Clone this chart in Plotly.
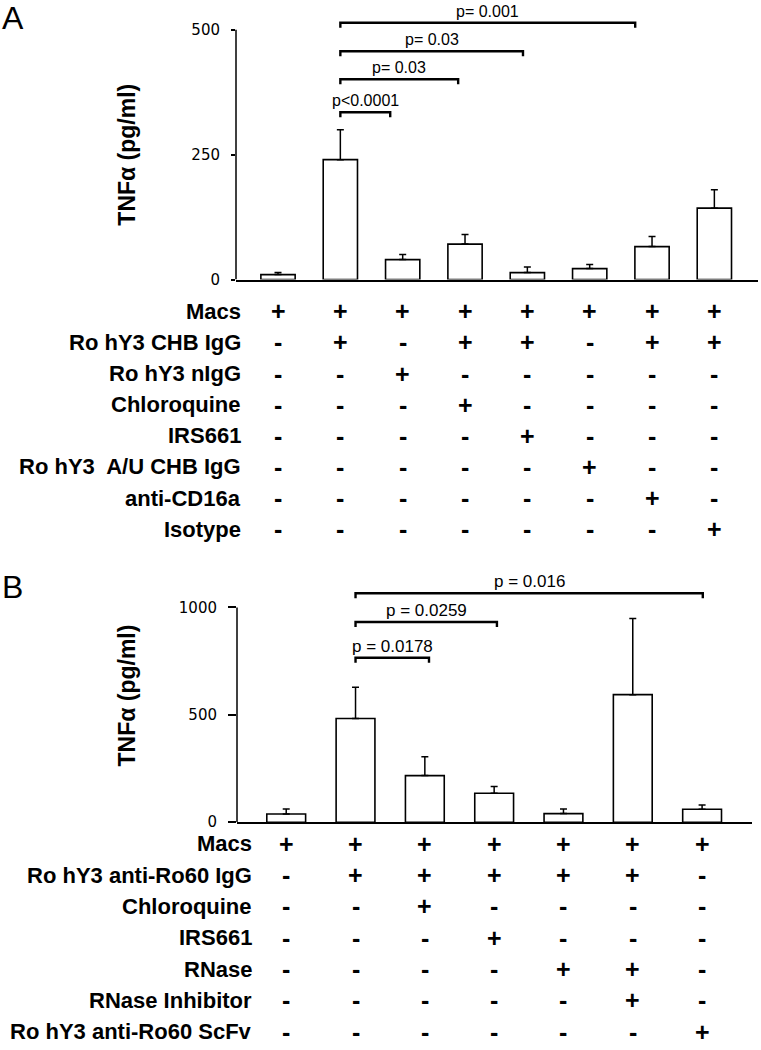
import plotly.graph_objects as go

W, H = 761, 1050

# ---------------- Panel A data ----------------
a_groups = list(range(8))
a_mean = [10, 240, 40, 71, 14, 22, 66, 143]
a_err = [4, 60, 10, 19, 11, 8, 20, 37]
a_ticks = [0, 250, 500]
a_rows = ["Macs", "Ro hY3 CHB IgG", "Ro hY3 nIgG", "Chloroquine", "IRS661",
          "Ro hY3\u00a0 A/U CHB IgG", "anti-CD16a", "Isotype"]
a_signs = [
    ["+", "+", "+", "+", "+", "+", "+", "+"],
    ["-", "+", "-", "+", "+", "-", "+", "+"],
    ["-", "-", "+", "-", "-", "-", "-", "-"],
    ["-", "-", "-", "+", "-", "-", "-", "-"],
    ["-", "-", "-", "-", "+", "-", "-", "-"],
    ["-", "-", "-", "-", "-", "+", "-", "-"],
    ["-", "-", "-", "-", "-", "-", "+", "-"],
    ["-", "-", "-", "-", "-", "-", "-", "+"],
]
a_br_from = [1, 1, 1, 1]
a_br_to = [1.8, 2.89, 3.93, 5.73]
a_br_y = [335, 401, 457, 514]
a_br_text = ["p<0.0001", "p= 0.03", "p= 0.03", "p= 0.001"]

# ---------------- Panel B data ----------------
b_groups = list(range(7))
b_mean = [38, 483, 217, 135, 40, 594, 60]
b_err = [23, 145, 88, 31, 21, 354, 20]
b_ticks = [0, 500, 1000]
b_rows = ["Macs", "Ro hY3 anti-Ro60 IgG", "Chloroquine", "IRS661", "RNase",
          "RNase Inhibitor", "Ro hY3 anti-Ro60 ScFv"]
b_signs = [
    ["+", "+", "+", "+", "+", "+", "+"],
    ["-", "+", "+", "+", "+", "+", "-"],
    ["-", "-", "+", "-", "-", "-", "-"],
    ["-", "-", "-", "+", "-", "-", "-"],
    ["-", "-", "-", "-", "+", "+", "-"],
    ["-", "-", "-", "-", "-", "+", "-"],
    ["-", "-", "-", "-", "-", "-", "+"],
]
b_br_from = [1, 1, 1]
b_br_to = [2.06, 3.04, 6.01]
b_br_y = [766, 932, 1066]
b_br_text = ["p = 0.0178", "p = 0.0259", "p = 0.016"]

FONT = "Liberation Sans, Arial, Helvetica, sans-serif"
TICKFONT = "DejaVu Sans, Arial, sans-serif"


def py(px):
    return 1 - px / H


def pxx(px):
    return px / W


fig = go.Figure()

panels = [
    dict(xa="x", ya="y", xname="xaxis", yname="yaxis", groups=a_groups, mean=a_mean, err=a_err,
         ticks=a_ticks, ymax_axis=500, rows=a_rows, signs=a_signs,
         br_from=a_br_from, br_to=a_br_to, br_y=a_br_y, br_text=a_br_text,
         x_left=236, x_right=758, xr=[-0.674, 7.70], y0px=282, pxper=0.504, yr=[0, 555],
         ticklen=4, label_right=243, row0=314, rowstep=31.4, ptext=16, pshift=1,
         title_y=250, bw=0.55, letter="A", letter_y=18),
    dict(xa="x2", ya="y2", xname="xaxis2", yname="yaxis2", groups=b_groups, mean=b_mean, err=b_err,
         ticks=b_ticks, ymax_axis=1000, rows=b_rows, signs=b_signs,
         br_from=b_br_from, br_to=b_br_to, br_y=b_br_y, br_text=b_br_text,
         x_left=237, x_right=752, xr=[-0.71, 6.72], y0px=829.3, pxper=0.2166, yr=[0, 1200],
         ticklen=8, label_right=254, row0=851, rowstep=31.6, ptext=17, pshift=0,
         title_y=590, bw=0.56, letter="B", letter_y=592),
]

annotations = []
shapes = []

for p in panels:
    n = len(p["groups"])
    fig.add_trace(go.Bar(
        x=p["groups"], y=p["mean"], width=p["bw"],
        marker=dict(color="white", line=dict(color="black", width=1.6)),
        error_y=dict(type="data", array=p["err"], arrayminus=[0] * n, symmetric=False,
                     color="black", thickness=1.5, width=3.5),
        xaxis=p["xa"], yaxis=p["ya"], showlegend=False,
    ))
    top_px = p["y0px"] - p["yr"][1] * p["pxper"]
    fig.update_layout(**{
        p["xname"]: dict(domain=[pxx(p["x_left"]), pxx(p["x_right"])], range=p["xr"],
                         showline=True, linecolor="black", linewidth=1.5, ticks="",
                         showticklabels=False, showgrid=False, zeroline=False,
                         anchor=p["ya"]),
        p["yname"]: dict(domain=[py(p["y0px"]), py(top_px)], range=p["yr"],
                         showline=False, ticks="outside", ticklen=p["ticklen"], tickwidth=1.5,
                         tickcolor="black", tickvals=p["ticks"],
                         ticktext=[str(t) for t in p["ticks"]],
                         tickfont=dict(family=TICKFONT, size=15, color="black"),
                         ticklabelstandoff=8,
                         showgrid=False, zeroline=False, anchor=p["xa"]),
    })
    # y axis line from 0 to top tick
    shapes.append(dict(type="line", xref=p["xa"] + " domain", yref=p["ya"], x0=0, x1=0,
                       y0=0, y1=p["ymax_axis"], line=dict(color="black", width=1.5)))
    # significance brackets
    drop = 5 / p["pxper"]
    for x0, x1, yb, txt in zip(p["br_from"], p["br_to"], p["br_y"], p["br_text"]):
        shapes.append(dict(type="path", xref=p["xa"], yref=p["ya"],
                           path=f"M {x0},{yb - drop} L {x0},{yb} L {x1},{yb} L {x1},{yb - drop}",
                           line=dict(color="black", width=2.4)))
        annotations.append(dict(xref=p["xa"], yref=p["ya"], x=(x0 + x1) / 2, y=yb,
                                text=txt, showarrow=False, xanchor="center", yanchor="bottom",
                                yshift=p["pshift"],
                                font=dict(family=FONT, size=p["ptext"], color="black")))
    # y-axis title
    annotations.append(dict(xref="paper", yref=p["ya"], x=pxx(127), y=p["title_y"],
                            text="<b>TNF\u03b1 (pg/ml)</b>", textangle=-90, showarrow=False,
                            xanchor="center", yanchor="middle",
                            font=dict(family=FONT, size=23, color="black")))
    # panel letter
    annotations.append(dict(xref="paper", yref="paper", x=0.0, y=py(p["letter_y"]),
                            text=p["letter"], showarrow=False, xanchor="left", yanchor="middle",
                            font=dict(family=FONT, size=32, color="black")))
    # condition table
    for r, (label, signs) in enumerate(zip(p["rows"], p["signs"])):
        ry = py(p["row0"] + r * p["rowstep"])
        annotations.append(dict(xref="paper", yref="paper", x=pxx(p["label_right"]), y=ry,
                                text=f"<b>{label}</b>", showarrow=False, xanchor="right",
                                yanchor="middle",
                                font=dict(family=FONT, size=22, color="black")))
        for i, s in enumerate(signs):
            annotations.append(dict(xref=p["xa"], yref="paper", x=p["groups"][i], y=ry,
                                    text=f"<b>{s}</b>", showarrow=False, xanchor="center",
                                    yanchor="middle",
                                    font=dict(family=FONT, size=25, color="black")))

fig.update_layout(
    width=W, height=H, margin=dict(l=0, r=0, t=0, b=0),
    paper_bgcolor="white", plot_bgcolor="white",
    annotations=annotations, shapes=shapes, showlegend=False,
    font=dict(family=FONT, color="black"),
)

fig.write_html("out.html", config={"displayModeBar": False},
               post_script="document.body.style.margin='0';document.body.style.overflow='hidden';")
